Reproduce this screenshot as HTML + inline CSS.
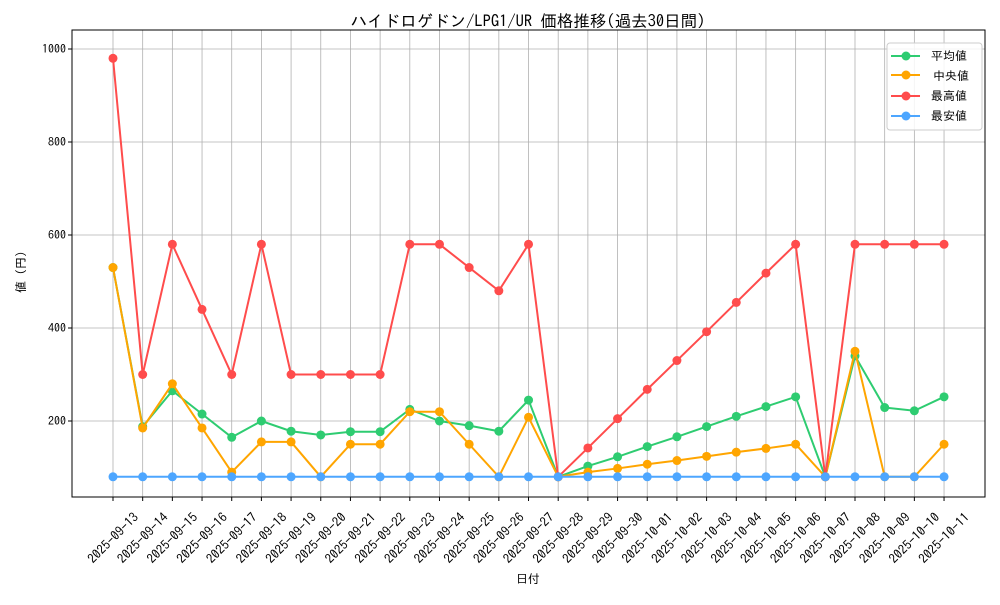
<!DOCTYPE html>
<html><head><meta charset="utf-8"><style>
body{margin:0;background:#fff}
svg text{font-family:"IPAGothic","Noto Sans CJK JP",sans-serif;fill:#000}
</style></head><body>
<svg id="s" width="1000" height="600" xmlns="http://www.w3.org/2000/svg">
<rect x="0" y="0" width="1000" height="600" fill="#fff"/>
<g id="grid"></g>
<rect x="72" y="30" width="913" height="467" fill="none" stroke="#000" stroke-width="1"/>
<g id="series"></g>
<text x="528" y="27" font-size="16.5" text-anchor="middle">ハイドロゲドン/LPG1/UR 価格推移(過去30日間)</text>
<text x="528" y="583" font-size="12" text-anchor="middle">日付</text>
<text transform="translate(25,272) rotate(-90)" font-size="12" text-anchor="middle">値 (円)</text>
<g font-size="12" text-anchor="end">
<text x="66" y="53">1000</text><text x="66" y="146">800</text><text x="66" y="239">600</text><text x="66" y="332">400</text><text x="66" y="425">200</text>
</g>
<g id="xl" font-size="13" text-anchor="middle" dominant-baseline="central">
<text>2025-09-13</text><text>2025-09-14</text><text>2025-09-15</text><text>2025-09-16</text><text>2025-09-17</text><text>2025-09-18</text><text>2025-09-19</text><text>2025-09-20</text><text>2025-09-21</text><text>2025-09-22</text><text>2025-09-23</text><text>2025-09-24</text><text>2025-09-25</text><text>2025-09-26</text><text>2025-09-27</text><text>2025-09-28</text><text>2025-09-29</text><text>2025-09-30</text><text>2025-10-01</text><text>2025-10-02</text><text>2025-10-03</text><text>2025-10-04</text><text>2025-10-05</text><text>2025-10-06</text><text>2025-10-07</text><text>2025-10-08</text><text>2025-10-09</text><text>2025-10-10</text><text>2025-10-11</text>
</g>
<g>
<rect x="887" y="43" width="95" height="87" rx="3" fill="#fff" fill-opacity="0.85" stroke="#ccc"/>
<line x1="891" y1="56" x2="920" y2="56" stroke="#2ecc71" stroke-width="2"/><circle cx="906" cy="56" r="4.5" fill="#2ecc71"/>
<line x1="891" y1="75" x2="920" y2="75" stroke="#ffa500" stroke-width="2"/><circle cx="906" cy="75" r="4.5" fill="#ffa500"/>
<line x1="891" y1="96" x2="920" y2="96" stroke="#ff4c4c" stroke-width="2"/><circle cx="906" cy="96" r="4.5" fill="#ff4c4c"/>
<line x1="891" y1="116" x2="920" y2="116" stroke="#4da6ff" stroke-width="2"/><circle cx="906" cy="116" r="4.5" fill="#4da6ff"/>
<text x="931" y="60" font-size="12">平均値</text>
<text x="933" y="80" font-size="12">中央値</text>
<text x="931" y="100" font-size="12">最高値</text>
<text x="931" y="120" font-size="12">最安値</text>
</g>
</svg>
<script>
const X=i=>113+i*29.68, Y=v=>514-v*0.465;
const ns="http://www.w3.org/2000/svg";
const g=document.getElementById('grid'), s=document.getElementById('series');
function el(p,t,a){const e=document.createElementNS(ns,t);for(const k in a)e.setAttribute(k,a[k]);p.appendChild(e);return e;}
for(let i=0;i<29;i++){el(g,'line',{x1:X(i),x2:X(i),y1:30,y2:497,stroke:'#b0b0b0','stroke-width':0.8});el(g,'line',{x1:X(i),x2:X(i),y1:497,y2:501,stroke:'#000'});}
[200,400,600,800,1000].forEach(v=>{el(g,'line',{x1:72,x2:985,y1:Y(v),y2:Y(v),stroke:'#b0b0b0','stroke-width':0.8});el(g,'line',{x1:68,x2:72,y1:Y(v),y2:Y(v),stroke:'#000'});});
const xl=document.getElementById('xl').children;
for(let i=0;i<xl.length;i++)xl[i].setAttribute('transform',`translate(${X(i)},${538}) rotate(-45)`);
const D=[
['#2ecc71',[530,188,265,215,165,200,178,170,177,177,225,200,190,178,245,80,103,123,145,166,188,210,231,252,80,340,229,222,252]],
['#ffa500',[530,185,280,185,90,155,155,80,150,150,220,220,150,80,208,80,90,98,107,115,124,133,141,150,80,350,80,80,150]],
['#ff4c4c',[980,300,580,440,300,580,300,300,300,300,580,580,530,480,580,80,142,205,268,330,392,455,518,580,80,580,580,580,580]],
['#4da6ff',Array(29).fill(80)]];
D.forEach(([c,d])=>{el(s,'polyline',{points:d.map((v,i)=>X(i)+','+Y(v)).join(' '),fill:'none',stroke:c,'stroke-width':2});d.forEach((v,i)=>el(s,'circle',{cx:X(i),cy:Y(v),r:4.5,fill:c}));});
</script>
</body></html>
